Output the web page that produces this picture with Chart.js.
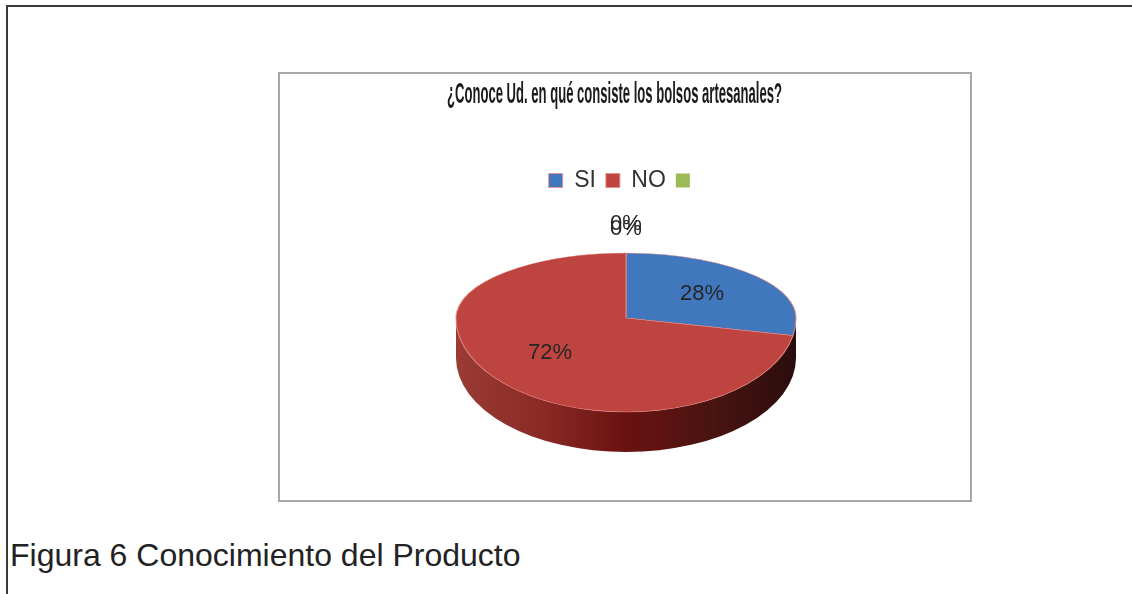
<!DOCTYPE html>
<html><head><meta charset="utf-8">
<script src="https://cdn.jsdelivr.net/npm/chart.js@4.4.0/dist/chart.umd.min.js"></script>
<style>
html,body{margin:0;padding:0;background:#fff;width:1132px;height:594px;overflow:hidden;}
#outer{position:absolute;left:6px;top:5px;width:1140px;height:700px;border-left:2px solid #3a3a3a;border-top:2px solid #3a3a3a;}
#box{position:absolute;left:278px;top:72px;width:690px;height:426px;border:2px solid #a8a8a8;}
#wrap{position:absolute;left:280px;top:74px;width:690px;height:426px;}
#cap{position:absolute;left:10px;top:539px;font:32px 'Liberation Sans',Arial,sans-serif;line-height:32px;color:#222;white-space:nowrap;}
</style>
</head><body>
<div id="outer"></div>
<div id="box"></div>
<div id="wrap"><canvas id="c" width="690" height="426"></canvas></div>
<div id="cap">Figura 6 Conocimiento del Producto</div>
<script>
const chartTitle = '¿Conoce Ud. en qué consiste los bolsos artesanales?';
const categories = ['SI', 'NO', '', ''];
const values = [28, 72, 0, 0];
const colors = ['#4177bc', '#be4440', '#9bbb59', '#8064a2'];

const total = values.reduce((s, v) => s + v, 0);

function setTransform(ctx, a, o, ry) {
  ctx.translate(o.cx, o.cy);
  ctx.scale(o.rx / a.outerRadius, ry / a.outerRadius);
  ctx.translate(-a.x, -a.y);
}

const pie3d = {
  id: 'pie3d',
  beforeDatasetsDraw(chart, args, o) {
    const a = chart.getDatasetMeta(0).data[0];
    const ctx = chart.ctx;
    // side wall
    ctx.save();
    const g = ctx.createLinearGradient(o.cx - o.rx, 0, o.cx + o.rx, 0);
    g.addColorStop(0, '#9a3b35');
    g.addColorStop(0.25, '#8a2a26');
    g.addColorStop(0.5, '#6a1212');
    g.addColorStop(0.75, '#4a1411');
    g.addColorStop(1, '#2a0d0b');
    ctx.beginPath();
    ctx.moveTo(o.cx + o.rx, o.cy);
    ctx.lineTo(o.cx + o.rx, o.cy + o.depth);
    ctx.ellipse(o.cx, o.cy + o.depth, o.rx, o.ryB, 0, 0, Math.PI);
    ctx.lineTo(o.cx - o.rx, o.cy);
    ctx.ellipse(o.cx, o.cy, o.rx, o.ryB, 0, Math.PI, 0, true);
    ctx.closePath();
    ctx.fillStyle = g;
    ctx.fill();
    ctx.restore();
    // far half of the top face (drawn by Chart.js)
    ctx.save();
    ctx.beginPath();
    ctx.rect(0, 0, chart.width, o.cy);
    ctx.clip();
    setTransform(ctx, a, o, o.ryT);
  },
  afterDatasetsDraw(chart, args, o) {
    const ctx = chart.ctx;
    ctx.restore();
    const meta = chart.getDatasetMeta(0);
    const a = meta.data[0];
    // near half of the top face
    ctx.save();
    ctx.beginPath();
    ctx.rect(0, o.cy, chart.width, chart.height - o.cy);
    ctx.clip();
    setTransform(ctx, a, o, o.ryB);
    meta.data.forEach(el => el.draw(ctx));
    ctx.restore();
  },
  afterDraw(chart, args, o) {
    const ctx = chart.ctx;
    const meta = chart.getDatasetMeta(0);
    ctx.save();
    ctx.font = o.labelFont;
    ctx.fillStyle = '#262626';
    ctx.textAlign = 'center';
    ctx.textBaseline = 'middle';
    let nZero = 0;
    meta.data.forEach((el, i) => {
      const v = values[i];
      const mid = (el.startAngle + el.endAngle) / 2;
      const txt = Math.round(v / total * 100) + '%';
      let x, y;
      if (v > 0) {
        const sn = Math.sin(mid);
        const ry = sn < 0 ? o.ryT : o.ryB;
        x = o.cx + o.frac * o.rx * Math.cos(mid);
        y = o.cy + o.frac * ry * sn;
      } else {
        x = o.cx + o.rx * Math.cos(mid);
        y = o.cy - o.ryT - o.outOff - nZero * 5;
        nZero++;
      }
      ctx.fillText(txt, x, y);
    });
    // title (condensed)
    ctx.font = o.titleFont;
    ctx.fillStyle = '#1a1a1a';
    ctx.textAlign = 'left';
    ctx.textBaseline = 'alphabetic';
    const w = ctx.measureText(chartTitle).width;
    const sx = o.titleWidth / w;
    ctx.translate(o.titleX - o.titleWidth / 2, o.titleY);
    ctx.scale(sx, 1);
    ctx.fillText(chartTitle, 0, 0);
    ctx.restore();
  }
};

new Chart(document.getElementById('c'), {
  type: 'pie',
  data: {
    labels: categories,
    datasets: [{
      data: values,
      backgroundColor: colors,
      borderColor: 'rgba(235,140,135,0.8)',
      borderWidth: [1, 1, 0, 0],
      clip: false
    }]
  },
  plugins: [pie3d],
  options: {
    responsive: false,
    animation: false,
    layout: { padding: { top: 85, left: 0, right: 0, bottom: 0 } },
    plugins: {
      tooltip: { enabled: false },
      title: { display: false },
      legend: {
        position: 'top',
        labels: {
          boxWidth: 14, boxHeight: 14,
          color: '#333',
          font: { family: "'Liberation Sans', Arial, sans-serif", size: 23 },
          filter: (item) => item.index < 3
        }
      },
      pie3d: {
        cx: 346, cy: 244, rx: 170, ryT: 65, ryB: 94, depth: 40,
        frac: 0.58, outOff: 24,
        labelFont: "22px 'Liberation Sans', Arial, sans-serif",
        titleFont: "bold 30px 'Liberation Sans', Arial, sans-serif",
        titleWidth: 335, titleX: 334.5, titleY: 29
      }
    }
  }
});
</script>
</body></html>
